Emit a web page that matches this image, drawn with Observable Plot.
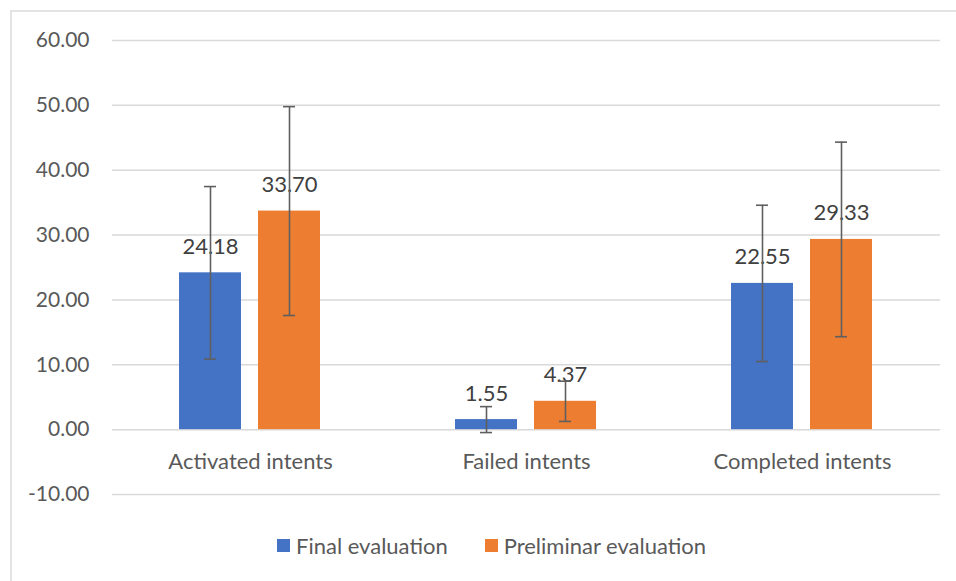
<!DOCTYPE html>
<html>
<head>
<meta charset="utf-8">
<script src="https://cdn.jsdelivr.net/npm/d3@7"></script>
<script src="https://cdn.jsdelivr.net/npm/@observablehq/plot@0.6"></script>
<style>
  html, body { margin: 0; padding: 0; background: #fff; overflow: hidden; }
  body { width: 956px; height: 581px; position: relative; font-family: Lato, "Open Sans", sans-serif; }
  #frame { position: absolute; left: 10px; top: 10px; width: 1000px; height: 700px;
           border-left: 2px solid #e3e3e3; border-top: 2px solid #e3e3e3; }
  #chart { position: absolute; left: 0; top: 0; }
  #legend { position: absolute; left: 265px; top: 520px; display: flex; align-items: center;
            font-size: 22px; color: #595959; white-space: nowrap; }
  .sw { display: inline-block; width: 13px; height: 13px; margin-right: 6px; }
  .item { display: flex; align-items: center; margin-right: 37px; }
</style>
</head>
<body>
<div id="frame">
  <div id="chart"></div>
  <div id="legend"></div>
</div>
<script>
const categories = ["Activated intents", "Failed intents", "Completed intents"];
const series = ["Final evaluation", "Preliminar evaluation"];
const colors = ["#4472C4", "#ED7D31"];
const finalValues = [24.18, 1.55, 22.55];
const prelimValues = [33.70, 4.37, 29.33];
const finalErr = [13.3, 2.0, 12.05];
const prelimErr = [16.1, 3.1, 15.0];
const yTicks = [-10, 0, 10, 20, 30, 40, 50, 60];

const data = [];
categories.forEach((c, i) => {
  data.push({category: c, series: series[0], value: finalValues[i], err: finalErr[i]});
  data.push({category: c, series: series[1], value: prelimValues[i], err: prelimErr[i]});
});

const errColor = "#5f5f5f";
const chart = Plot.plot({
  width: 944,
  height: 510,
  marginTop: 28,
  marginBottom: 28,
  marginLeft: 100,
  marginRight: 16,
  style: {fontFamily: "Lato, 'Open Sans', sans-serif", fontSize: "21px", color: "#595959", background: "transparent"},
  fx: {domain: categories, padding: 0, axis: null},
  x: {domain: series, paddingInner: 0.215, paddingOuter: 0.854, axis: null},
  y: {domain: [-10, 60], ticks: yTicks, tickFormat: d => d.toFixed(2), tickSize: 0, tickPadding: 23, label: null},
  color: {domain: series, range: colors},
  marks: [
    Plot.ruleY(yTicks, {stroke: "#d9d9d9", strokeWidth: 1.5}),
    Plot.barY(data, {fx: "category", x: "series", y: "value", fill: "series"}),
    Plot.text(data, {fx: "category", x: "series", y: "value", text: d => d.value.toFixed(2), dy: -26, fill: "#404040", fontSize: 22}),
    Plot.text(categories, {fx: d => d, y: d => 0, text: d => d, dy: 32, fill: "#595959", fontSize: 22}),
    Plot.ruleX(data, {fx: "category", x: "series", y1: d => d.value - d.err, y2: d => d.value + d.err, stroke: errColor, strokeWidth: 1.6}),
    Plot.tickY(data, {fx: "category", x: "series", y: d => d.value + d.err, insetLeft: 25, insetRight: 25, stroke: errColor, strokeWidth: 1.6}),
    Plot.tickY(data, {fx: "category", x: "series", y: d => d.value - d.err, insetLeft: 25, insetRight: 25, stroke: errColor, strokeWidth: 1.6})
  ]
});
document.getElementById("chart").appendChild(chart);

const legend = document.getElementById("legend");
series.forEach((s, i) => {
  const item = document.createElement("div");
  item.className = "item";
  const sw = document.createElement("span");
  sw.className = "sw";
  sw.style.background = colors[i];
  item.appendChild(sw);
  item.appendChild(document.createTextNode(s));
  legend.appendChild(item);
});
</script>
</body>
</html>
